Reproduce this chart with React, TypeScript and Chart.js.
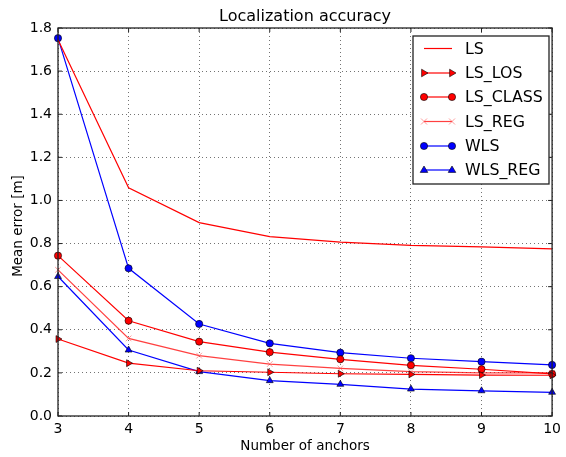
import React, { useEffect, useRef } from "react";
import { Chart, registerables } from "chart.js";
Chart.register(...registerables);

const anchors = [3, 4, 5, 6, 7, 8, 9, 10];
const LS = [1.745, 1.059, 0.897, 0.832, 0.807, 0.792, 0.785, 0.775];
const LS_LOS = [0.357, 0.245, 0.21, 0.203, 0.196, 0.193, 0.19, 0.189];
const LS_CLASS = [0.744, 0.442, 0.345, 0.296, 0.263, 0.235, 0.217, 0.195];
const LS_REG = [0.678, 0.36, 0.28, 0.241, 0.221, 0.206, 0.2, 0.2];
const WLS = [1.753, 0.685, 0.427, 0.337, 0.294, 0.268, 0.252, 0.237];
const WLS_REG = [0.647, 0.306, 0.206, 0.164, 0.147, 0.125, 0.117, 0.11];
const yTicks = [0, 0.2, 0.4, 0.6, 0.8, 1.0, 1.2, 1.4, 1.6, 1.8];

const FONT = "'DejaVu Sans', sans-serif";

type Spec = {
  label: string;
  data: number[];
  color: string;
  mColor: string;
  style: any;
  rot: number;
  radius: number;
  show: boolean;
  edge: string;
};

const specs: Spec[] = [
  { label: "LS", data: LS, color: "#ff0000", mColor: "#ff0000", style: "circle", rot: 0, radius: 0, show: false, edge: "#000" },
  { label: "LS_LOS", data: LS_LOS, color: "#ff0000", mColor: "#ff0000", style: "triangle", rot: 90, radius: 4, show: true, edge: "#000" },
  { label: "LS_CLASS", data: LS_CLASS, color: "#ff0000", mColor: "#ff0000", style: "circle", rot: 0, radius: 3.6, show: true, edge: "#000" },
  { label: "LS_REG", data: LS_REG, color: "rgba(255,0,0,0.75)", mColor: "rgba(255,90,90,0.6)", style: "crossRot", rot: 0, radius: 4, show: true, edge: "rgba(255,90,90,0.6)" },
  { label: "WLS", data: WLS, color: "#0000ff", mColor: "#0000ff", style: "circle", rot: 0, radius: 3.6, show: true, edge: "#000" },
  { label: "WLS_REG", data: WLS_REG, color: "#0000ff", mColor: "#0000ff", style: "triangle", rot: 0, radius: 4, show: true, edge: "#000" },
];

function marker(ctx: CanvasRenderingContext2D, s: Spec, x: number, y: number) {
  const r = s.radius;
  ctx.save();
  ctx.translate(x, y);
  ctx.rotate((s.rot * Math.PI) / 180);
  ctx.fillStyle = s.mColor;
  ctx.strokeStyle = s.edge;
  ctx.beginPath();
  if (s.style === "circle") {
    ctx.lineWidth = 0.6;
    ctx.arc(0, 0, r, 0, Math.PI * 2);
    ctx.fill();
    ctx.stroke();
  } else if (s.style === "triangle") {
    ctx.lineWidth = 0.6;
    ctx.moveTo(0, -r);
    ctx.lineTo(r * 0.95, r * 0.6);
    ctx.lineTo(-r * 0.95, r * 0.6);
    ctx.closePath();
    ctx.fill();
    ctx.stroke();
  } else {
    ctx.lineWidth = 1;
    const d = r * 0.75;
    ctx.moveTo(-d, -d); ctx.lineTo(d, d);
    ctx.moveTo(-d, d); ctx.lineTo(d, -d);
    ctx.stroke();
  }
  ctx.restore();
}

const framePlugin = {
  id: "frame",
  afterDraw(chart: any) {
    const { ctx, chartArea: a } = chart;
    const xs = chart.scales.x;
    const ys = chart.scales.y;
    ctx.save();
    ctx.strokeStyle = "#222";
    ctx.lineWidth = 1.3;
    ctx.strokeRect(a.left, a.top, a.right - a.left, a.bottom - a.top);
    ctx.lineWidth = 1;
    ctx.beginPath();
    anchors.forEach((v) => {
      const px = xs.getPixelForValue(v);
      ctx.moveTo(px, a.bottom); ctx.lineTo(px, a.bottom - 4);
      ctx.moveTo(px, a.top); ctx.lineTo(px, a.top + 4);
    });
    yTicks.forEach((v) => {
      const py = ys.getPixelForValue(v);
      ctx.moveTo(a.left, py); ctx.lineTo(a.left + 4, py);
      ctx.moveTo(a.right, py); ctx.lineTo(a.right - 4, py);
    });
    ctx.stroke();
    ctx.fillStyle = "#000";
    ctx.textAlign = "center";
    ctx.textBaseline = "middle";
    ctx.font = `16px ${FONT}`;
    ctx.fillText("Localization accuracy", (a.left + a.right) / 2, 17);
    ctx.font = `13.5px ${FONT}`;
    ctx.fillText("Number of anchors", (a.left + a.right) / 2, 446);
    ctx.save();
    ctx.translate(18, (a.top + a.bottom) / 2 + 4);
    ctx.rotate(-Math.PI / 2);
    ctx.fillText("Mean error [m]", 0, 0);
    ctx.restore();

    const lx = 413, ly = 36, lw = 136, lh = 148;
    ctx.fillStyle = "#fff";
    ctx.fillRect(lx, ly, lw, lh);
    ctx.strokeStyle = "#222";
    ctx.lineWidth = 1.3;
    ctx.strokeRect(lx, ly, lw, lh);
    const rowY = [48.5, 73, 97, 121.5, 146, 170];
    specs.forEach((s, i) => {
      const y = rowY[i];
      ctx.strokeStyle = s.color;
      ctx.lineWidth = 1.2;
      ctx.beginPath();
      ctx.moveTo(424, y);
      ctx.lineTo(452, y);
      ctx.stroke();
      if (s.show) {
        marker(ctx, s, 424, y);
        marker(ctx, s, 452, y);
      }
      ctx.fillStyle = "#000";
      ctx.textAlign = "left";
      ctx.textBaseline = "middle";
      ctx.font = `15.8px ${FONT}`;
      ctx.fillText(s.label, 465, y + 1);
    });
    ctx.restore();
  },
};

export default function App() {
  const ref = useRef<HTMLCanvasElement>(null);
  useEffect(() => {
    const chart = new Chart(ref.current!, {
      type: "line",
      data: {
        datasets: specs.map((s) => ({
          label: s.label,
          data: s.data.map((v, i) => ({ x: anchors[i], y: v })),
          borderColor: s.color,
          backgroundColor: s.mColor,
          borderWidth: 1.2,
          pointStyle: s.style,
          pointRotation: s.rot,
          pointRadius: s.show ? s.radius : 0,
          pointBackgroundColor: s.mColor,
          pointBorderColor: s.edge,
          pointBorderWidth: s.style === "crossRot" ? 1 : 0.6,
          tension: 0,
          fill: false,
          clip: false as any,
        })),
      },
      options: {
        animation: false,
        responsive: false,
        maintainAspectRatio: false,
        layout: { padding: { top: 28, right: 8, left: 0, bottom: 0 } },
        plugins: { legend: { display: false }, title: { display: false }, tooltip: { enabled: false } },
        scales: {
          x: {
            type: "linear",
            min: 3,
            max: 10,
            afterFit: (s: any) => { s.height = 41; },
            afterBuildTicks: (s: any) => { s.ticks = anchors.map((v) => ({ value: v })); },
            ticks: { color: "#000", font: { family: FONT, size: 14 }, padding: 5, maxRotation: 0, callback: (v: any) => String(v) },
            grid: { color: "rgba(0,0,0,0.55)", lineWidth: 1, drawTicks: false },
            border: { display: false, dash: [1, 3] },
          },
          y: {
            type: "linear",
            min: 0,
            max: 1.8,
            afterFit: (s: any) => { s.width = 58; },
            afterBuildTicks: (s: any) => { s.ticks = yTicks.map((v) => ({ value: v })); },
            ticks: { color: "#000", font: { family: FONT, size: 14 }, padding: 6, callback: (v: any) => Number(v).toFixed(1) },
            grid: { color: "rgba(0,0,0,0.55)", lineWidth: 1, drawTicks: false },
            border: { display: false, dash: [1, 3] },
          },
        },
      },
      plugins: [framePlugin],
    });
    return () => chart.destroy();
  }, []);
  return (
    <div style={{ position: "absolute", left: 0, top: 0, width: 566, height: 457, background: "#fff" }}>
      <canvas ref={ref} width={566} height={457} style={{ width: 566, height: 457 }} />
    </div>
  );
}
